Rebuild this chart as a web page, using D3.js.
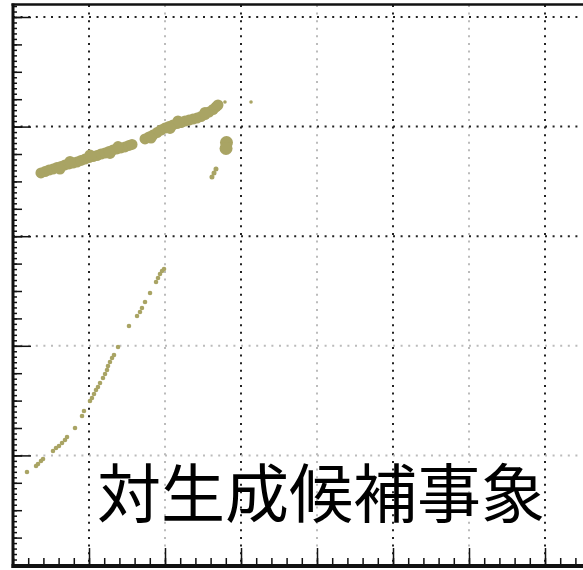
<!DOCTYPE html>
<html>
<head>
<meta charset="utf-8">
<script src="https://cdn.jsdelivr.net/npm/d3@7"></script>
<style>
  body { margin: 0; background: #fff; }
  svg { display: block; }
</style>
</head>
<body>
<svg width="583" height="570"></svg>
<script>
(function (d3) {
  'use strict';

  // candidate events, [x, y] in axis units
  const upperBand = [
    [0.368, 3.577], [0.421, 3.590], [0.474, 3.604], [0.526, 3.613], [0.579, 3.627],
    [0.632, 3.636], [0.684, 3.650], [0.737, 3.659], [0.789, 3.668], [0.842, 3.677],
    [0.895, 3.691], [0.947, 3.704], [1.000, 3.718], [1.053, 3.727], [1.105, 3.736],
    [1.158, 3.750], [1.211, 3.759], [1.263, 3.773], [1.316, 3.787], [1.368, 3.796],
    [1.421, 3.805], [1.474, 3.814], [1.526, 3.828], [1.566, 3.837],
    [1.737, 3.887], [1.789, 3.905], [1.842, 3.923], [1.895, 3.946], [1.947, 3.969],
    [2.000, 3.987], [2.053, 4.001], [2.105, 4.015], [2.158, 4.028], [2.211, 4.037],
    [2.263, 4.051], [2.316, 4.060], [2.368, 4.069], [2.421, 4.078], [2.474, 4.092],
    [2.526, 4.110], [2.579, 4.133], [2.632, 4.156], [2.671, 4.179], [2.697, 4.197],
    // events a little off the centre of the band
    [0.750, 3.682], [1.013, 3.741], [1.382, 3.818], [2.171, 4.051], [2.526, 4.129],
    [0.618, 3.613], [1.276, 3.755], [2.066, 3.983], [1.816, 3.896]
  ];
  const blob = [[2.809, 3.855], [2.803, 3.800]];
  const streak = [[2.671, 3.613], [2.645, 3.577], [2.618, 3.540]];
  const strayDots = [[2.789, 4.224], [3.132, 4.224]];
  const lowerCurve = [
    [0.184, 0.849], [0.303, 0.903], [0.329, 0.922], [0.368, 0.949], [0.395, 0.967],
    [0.526, 1.040], [0.566, 1.068], [0.605, 1.086], [0.645, 1.113], [0.684, 1.141],
    [0.711, 1.168], [0.816, 1.250], [0.908, 1.359], [0.934, 1.405], [1.013, 1.496],
    [1.039, 1.524], [1.066, 1.560], [1.092, 1.597], [1.118, 1.624], [1.145, 1.661],
    [1.184, 1.706], [1.211, 1.743], [1.237, 1.779], [1.250, 1.816], [1.276, 1.852],
    [1.303, 1.889], [1.329, 1.916], [1.382, 1.989], [1.526, 2.181], [1.632, 2.272],
    [1.671, 2.308], [1.697, 2.345], [1.737, 2.400], [1.803, 2.482], [1.882, 2.582],
    [1.908, 2.619], [1.934, 2.655], [1.961, 2.682], [1.987, 2.701]
  ];
  const xGrid = [1, 2, 3, 4, 5, 6, 7];
  const yGrid = [1, 2, 3, 4, 5];
  const faintX = [2, 4, 6];
  const faintY = [1, 2];
  const label = '対生成候補事象';

  const svg = d3.select('svg');
  const width = +svg.attr('width');

  const xScale = d3.scaleLinear().domain([0, 7.5]).range([13, 583]);
  const yScale = d3.scaleLinear().domain([0, 5]).range([565, 17]);
  const yTop = 5.11;

  const olive = '#a9a464';

  // dotted grid
  const grid = svg.append('g').attr('class', 'grid');
  grid.selectAll('.gx').data(xGrid).enter().append('line')
      .attr('class', 'gx')
      .attr('x1', d => xScale(d)).attr('x2', d => xScale(d))
      .attr('y1', yScale(yTop)).attr('y2', yScale(0))
      .attr('stroke', d => faintX.includes(d) ? '#bbb' : '#222')
      .attr('stroke-width', 2)
      .attr('stroke-dasharray', '2 5.6');
  grid.selectAll('.gy').data(yGrid).enter().append('line')
      .attr('class', 'gy')
      .attr('x1', xScale(0)).attr('x2', width)
      .attr('y1', d => yScale(d)).attr('y2', d => yScale(d))
      .attr('stroke', d => faintY.includes(d) ? '#bbb' : '#222')
      .attr('stroke-width', 2)
      .attr('stroke-dasharray', '2 5.6');

  // points
  const dots = svg.append('g').attr('fill', olive);
  const drawSeries = (data, r) => {
    dots.append('g').selectAll('circle').data(data).enter().append('circle')
        .attr('cx', d => xScale(d[0]))
        .attr('cy', d => yScale(d[1]))
        .attr('r', r);
  };
  drawSeries(upperBand, 5.5);
  drawSeries(blob, 6.5);
  drawSeries(streak, 2.5);
  drawSeries(strayDots, 1.8);
  drawSeries(lowerCurve, 2.3);

  // ticks, pointing into the frame
  const yAxis = (values, size) => d3.axisLeft(yScale)
      .tickValues(values).tickSize(-size).tickFormat('');
  const xAxis = (values, size) => d3.axisBottom(xScale)
      .tickValues(values).tickSize(-size).tickFormat('');

  const yMinor = d3.range(0, yTop, 0.05);
  const yMid = d3.range(0, yTop, 0.25);
  const xMinor = d3.range(0, 7.6, 0.2);

  [[yMinor, 4], [yMid, 9], [yGrid, 18]].forEach(([vals, size]) => {
    svg.append('g')
        .attr('transform', `translate(${xScale(0)},0)`)
        .call(yAxis(vals, size))
        .call(g => g.select('.domain').remove())
        .selectAll('line').attr('stroke', '#111').attr('stroke-width', 1.5);
  });
  [[xMinor, 7], [xGrid, 17]].forEach(([vals, size]) => {
    svg.append('g')
        .attr('transform', `translate(0,${yScale(0)})`)
        .call(xAxis(vals, size))
        .call(g => g.select('.domain').remove())
        .selectAll('line').attr('stroke', '#111').attr('stroke-width', 1.5);
  });

  // frame
  const frame = svg.append('g').attr('stroke', '#111');
  frame.append('line')
      .attr('x1', xScale(0)).attr('x2', xScale(0))
      .attr('y1', 3.5).attr('y2', 568)
      .attr('stroke-width', 3);
  frame.append('line')
      .attr('x1', 11.5).attr('x2', width)
      .attr('y1', 4.5).attr('y2', 4.5)
      .attr('stroke-width', 2.5);
  frame.append('line')
      .attr('x1', 11.5).attr('x2', width)
      .attr('y1', 566).attr('y2', 566)
      .attr('stroke-width', 4);

  svg.append('text')
      .attr('x', 97)
      .attr('y', 517)
      .attr('font-family', '"Noto Sans CJK JP", "Noto Sans CJK SC", sans-serif')
      .attr('font-size', 64)
      .attr('fill', '#000')
      .text(label);

}(d3));
</script>
</body>
</html>
